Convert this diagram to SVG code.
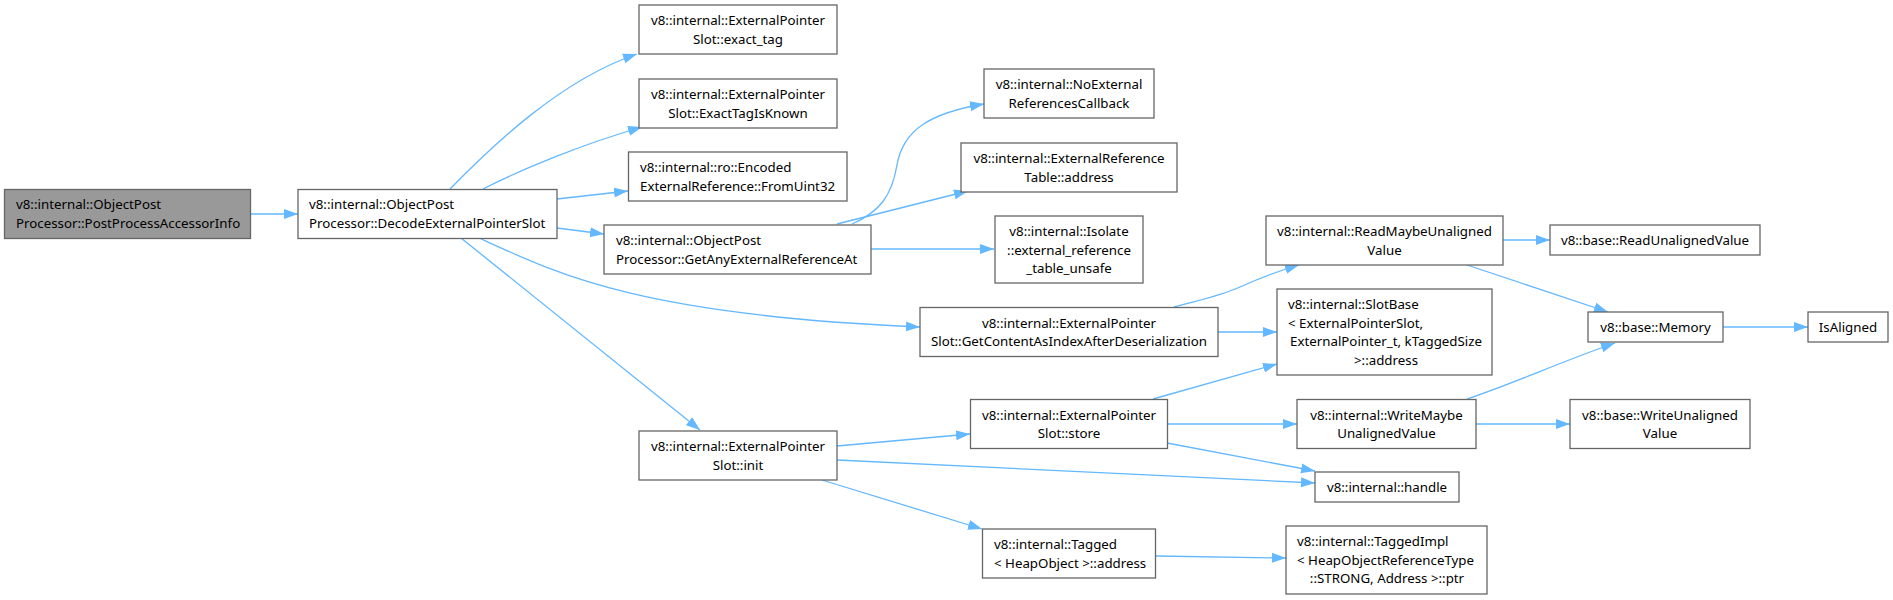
<svg xmlns="http://www.w3.org/2000/svg" width="1893" height="600" viewBox="0 0 1893 600">
<defs>
<marker id="arr" markerUnits="userSpaceOnUse" markerWidth="15" markerHeight="11" refX="14" refY="5.5" orient="auto">
<path d="M0,0.5 L14,5.5 L0,10.5 z" fill="#63b8ff"/>
</marker>
<style>
.n rect{fill:#fff;stroke:#666;stroke-width:1.3}
.g rect{fill:#999;stroke:#666;stroke-width:1.3}
text{font-family:"Noto Sans","Open Sans",sans-serif;font-size:13.3px;fill:#000}
.c{text-anchor:middle}
.e path{fill:none;stroke:#63b8ff;stroke-width:1.3;marker-end:url(#arr)}
</style>
</defs>
<rect width="1893" height="600" fill="#fff"/>
<g class="e" id="edges">
<path d="M251,214 L298,214"/>
<path d="M450,189 C490,148 560,80 637,54"/>
<path d="M483,189 C520,170 580,145 642,127"/>
<path d="M557,199 L628,191"/>
<path d="M557,228 L604,234"/>
<path d="M479,238 C560,275 640,315 920,327"/>
<path d="M461,238 L700,430"/>
<path d="M852,224 C880,212 892,195 897,165 C903,130 930,113 984,104"/>
<path d="M837,224 L968,191"/>
<path d="M871,249 L994,249"/>
<path d="M1174,307 C1200,300 1220,296 1240,287 S1275,272 1299,265"/>
<path d="M1218,332 L1277,332"/>
<path d="M1153,399 L1277,364"/>
<path d="M1503,240 L1550,240"/>
<path d="M1467,265 L1608,312"/>
<path d="M1467,399 C1510,385 1560,362 1615,343"/>
<path d="M1723,327 L1808,327"/>
<path d="M1167,424 L1297,424"/>
<path d="M1476,424 L1570,424"/>
<path d="M1167,443 L1315,471"/>
<path d="M837,460 L1315,483"/>
<path d="M837,446 L970,434"/>
<path d="M822,480 L982,529"/>
<path d="M1156,556 L1286,558"/>
</g>
<g class="g" id="n1"><rect x="4.5" y="189.5" width="246" height="49"/><text x="16" y="209">v8::internal::ObjectPost</text><text x="16" y="227.5">Processor::PostProcessAccessorInfo</text></g>
<g class="n" id="n2"><rect x="298" y="189.5" width="259" height="49"/><text x="309" y="209">v8::internal::ObjectPost</text><text x="309" y="227.5">Processor::DecodeExternalPointerSlot</text></g>
<g class="n" id="n3"><rect x="639" y="5" width="198" height="49"/><text class="c" x="738" y="25">v8::internal::ExternalPointer</text><text class="c" x="738" y="43.5">Slot::exact_tag</text></g>
<g class="n" id="n4"><rect x="639" y="79" width="198" height="49"/><text class="c" x="738" y="99">v8::internal::ExternalPointer</text><text class="c" x="738" y="117.5">Slot::ExactTagIsKnown</text></g>
<g class="n" id="n5"><rect x="628.5" y="152" width="218.5" height="49"/><text x="640" y="172">v8::internal::ro::Encoded</text><text x="640" y="190.5">ExternalReference::FromUint32</text></g>
<g class="n" id="n6"><rect x="604" y="225" width="267" height="49"/><text x="616" y="245">v8::internal::ObjectPost</text><text x="616" y="263.5">Processor::GetAnyExternalReferenceAt</text></g>
<g class="n" id="n7"><rect x="984" y="69" width="170" height="49"/><text class="c" x="1069" y="89">v8::internal::NoExternal</text><text class="c" x="1069" y="107.5">ReferencesCallback</text></g>
<g class="n" id="n8"><rect x="961" y="143" width="216" height="49"/><text class="c" x="1069" y="163">v8::internal::ExternalReference</text><text class="c" x="1069" y="181.5">Table::address</text></g>
<g class="n" id="n9"><rect x="995" y="216" width="148" height="67"/><text class="c" x="1069" y="236">v8::internal::Isolate</text><text class="c" x="1069" y="254.5">::external_reference</text><text class="c" x="1069" y="273">_table_unsafe</text></g>
<g class="n" id="n10"><rect x="920" y="307.5" width="298" height="49"/><text class="c" x="1069" y="327.5">v8::internal::ExternalPointer</text><text class="c" x="1069" y="346">Slot::GetContentAsIndexAfterDeserialization</text></g>
<g class="n" id="n11"><rect x="639" y="431" width="198" height="49"/><text class="c" x="738" y="451">v8::internal::ExternalPointer</text><text class="c" x="738" y="469.5">Slot::init</text></g>
<g class="n" id="n12"><rect x="970.5" y="399.5" width="197" height="49"/><text class="c" x="1069" y="419.5">v8::internal::ExternalPointer</text><text class="c" x="1069" y="438">Slot::store</text></g>
<g class="n" id="n13"><rect x="982.5" y="529" width="173" height="49"/><text x="994" y="549">v8::internal::Tagged</text><text x="994" y="567.5">&lt; HeapObject &gt;::address</text></g>
<g class="n" id="n14"><rect x="1266" y="216" width="237" height="49"/><text class="c" x="1384.5" y="236">v8::internal::ReadMaybeUnaligned</text><text class="c" x="1384.5" y="254.5">Value</text></g>
<g class="n" id="n15"><rect x="1277" y="289" width="215" height="86"/><text x="1288" y="309">v8::internal::SlotBase</text><text x="1288" y="327.5">&lt; ExternalPointerSlot,</text><text class="c" x="1386" y="346">ExternalPointer_t, kTaggedSize</text><text class="c" x="1386" y="364.5">&gt;::address</text></g>
<g class="n" id="n16"><rect x="1297" y="399.5" width="179" height="49"/><text class="c" x="1386.5" y="419.5">v8::internal::WriteMaybe</text><text class="c" x="1386.5" y="438">UnalignedValue</text></g>
<g class="n" id="n17"><rect x="1315" y="472" width="144" height="30"/><text class="c" x="1387" y="491.5">v8::internal::handle</text></g>
<g class="n" id="n18"><rect x="1286" y="526" width="201" height="68"/><text x="1297" y="546">v8::internal::TaggedImpl</text><text x="1297" y="564.5">&lt; HeapObjectReferenceType</text><text class="c" x="1387" y="583">::STRONG, Address &gt;::ptr</text></g>
<g class="n" id="n19"><rect x="1550" y="225" width="210" height="30"/><text class="c" x="1655" y="244.5">v8::base::ReadUnalignedValue</text></g>
<g class="n" id="n20"><rect x="1588" y="312" width="135" height="30"/><text class="c" x="1655.5" y="331.5">v8::base::Memory</text></g>
<g class="n" id="n21"><rect x="1808" y="312" width="80" height="30"/><text class="c" x="1848" y="331.5">IsAligned</text></g>
<g class="n" id="n22"><rect x="1570" y="399.5" width="180" height="49"/><text class="c" x="1660" y="419.5">v8::base::WriteUnaligned</text><text class="c" x="1660" y="438">Value</text></g>
</svg>
